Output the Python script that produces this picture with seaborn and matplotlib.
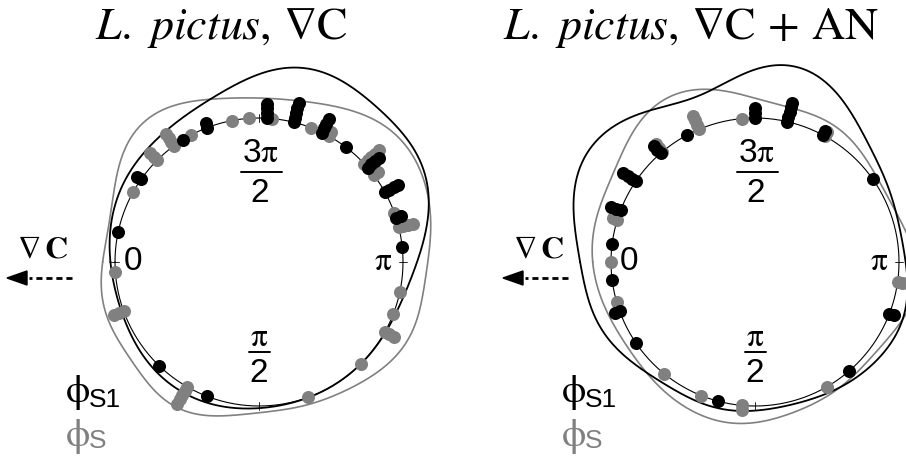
import numpy as np
import matplotlib
matplotlib.use("Agg")
import matplotlib.pyplot as plt
from matplotlib.patches import Polygon
from matplotlib.lines import Line2D
import seaborn as sns

sns.set_theme(style="white")
plt.rcParams["mathtext.fontset"] = "stix"

# Phase angles (degrees, 0 = up-gradient, counterclockwise); repeated values stack outward
grad_phi_s1 = [348, 325, 325, 302, 291, 291,
               267, 267, 267, 267, 256, 256, 256, 256, 256,
               244, 244, 244, 244, 233, 221, 221, 221, 221,
               209, 209, 209, 209, 198, 198, 186, 46, 69]
grad_phi_s = [4, 20, 20, 20, 60, 60, 60, 60, 60, 110, 135,
              151, 151, 151, 159, 168, 194, 194, 194, 194, 200,
              217, 217, 223, 223, 223, 223, 223, 241, 241, 249, 265,
              274, 281, 298, 306, 306, 306, 306, 315, 315, 315, 331]
an_phi_s1 = [353, 7, 20, 20, 34, 75, 131, 159, 159, 215, 242, 242,
             257, 257, 257, 257, 257, 270, 270, 270, 298,
             311, 311, 311, 326, 326, 326, 326, 339, 339, 339]
an_phi_s = [0, 16, 51, 68, 85, 85, 120, 172, 172, 172, 241, 241, 275,
            293, 293, 293, 293, 310, 310, 310, 343, 343]

panel_titles = [r"$\mathit{L.\ pictus},\,\nabla\mathrm{C}$",
                r"$\mathit{L.\ pictus},\,\nabla\mathrm{C}\,+\,\mathrm{AN}$"]
panel_data = [(grad_phi_s1, grad_phi_s), (an_phi_s1, an_phi_s)]

W, H = 906, 457
BASE_PX = 144          # radius of the reference circle in pixels
RMAX = 1.5
STEP = 0.034           # radial spacing of stacked dots
DOT_S = 88
KAPPA = 12.0
AMP = 0.39
GREY = "#808080"

fig = plt.figure(figsize=(W / 100, H / 100), dpi=100)
over = fig.add_axes([0, 0, 1, 1])
over.set_xlim(0, W)
over.set_ylim(H, 0)
over.axis("off")


def stacked(angles_deg):
    th, rr, seen = [], [], {}
    for a in angles_deg:
        k = seen.get(a, 0)
        seen[a] = k + 1
        th.append(np.deg2rad(a))
        rr.append(1.0 + k * STEP)
    return np.array(th), np.array(rr)


def circ_counts(angles_deg, grid):
    # von Mises kernel sum (count-weighted circular density)
    a = np.deg2rad(np.asarray(angles_deg, float))
    return np.exp(KAPPA * (np.cos(grid[:, None] - a[None, :]) - 1.0)).sum(axis=1)


grid = np.linspace(0, 2 * np.pi, 721)
centers = [(259, 262), (755, 262)]
title_left = [95, 503]

for (cx, cy), (s1, s), title, tx in zip(centers, panel_data, panel_titles,
                                        title_left):
    R = BASE_PX * RMAX
    ax = fig.add_axes([(cx - R) / W, (H - cy - R) / H, 2 * R / W, 2 * R / H],
                      projection="polar")
    ax.set_theta_zero_location("W")
    ax.set_theta_direction(1)
    ax.patch.set_visible(False)

    # reference circle and cardinal ticks
    ax.plot(grid, np.ones_like(grid), color="black", lw=0.8)
    for a in [0, np.pi / 2, np.pi, 3 * np.pi / 2]:
        ax.plot([a, a], [0.97, 1.03], color="black", lw=0.6)

    # smoothed circular densities on a shared scale
    d1 = circ_counts(s1, grid)
    d0 = circ_counts(s, grid)
    top = max(d1.max(), d0.max())
    sns.lineplot(x=grid, y=1.0 + AMP * d0 / top, ax=ax, color=GREY,
                 lw=1.2, sort=False, estimator=None)
    sns.lineplot(x=grid, y=1.0 + AMP * d1 / top, ax=ax, color="black",
                 lw=1.3, sort=False, estimator=None)

    # stacked dots
    th, rr = stacked(s)
    sns.scatterplot(x=th, y=rr, ax=ax, color=GREY, s=DOT_S, linewidth=0,
                    legend=False, zorder=3)
    th, rr = stacked(s1)
    sns.scatterplot(x=th, y=rr, ax=ax, color="black", s=DOT_S, linewidth=0,
                    legend=False, zorder=4)

    ax.set_ylim(0, RMAX)
    ax.set_xticks([])
    ax.set_yticks([])
    ax.grid(False)
    ax.set_xlabel("")
    ax.set_ylabel("")
    ax.spines["polar"].set_visible(False)

    # angle labels
    lab = dict(family="Liberation Sans", fontsize=24, color="black",
               ha="center", va="center")
    over.text(cx - 126, cy, "0", **lab)
    over.text(cx + 124, cy, r"$\mathrm{\pi}$", **lab)
    over.text(cx + 1, cy - 109, r"3$\mathrm{\pi}$", **lab)
    over.plot([cx - 18, cx + 23], [cy - 90, cy - 90], color="black", lw=1.4)
    over.text(cx + 1, cy - 69, "2", **lab)
    over.text(cx, cy + 76, r"$\mathrm{\pi}$", **lab)
    over.plot([cx - 10, cx + 11], [cy + 90, cy + 90], color="black", lw=1.4)
    over.text(cx, cy + 111, "2", **lab)

    # gradient direction marker
    gx = cx - 242
    over.text(gx, cy - 13, r"$\nabla\,\mathbf{C}$", fontsize=23,
              ha="left", va="center", color="black")
    over.add_line(Line2D([gx + 55, gx + 12], [cy + 16, cy + 16], color="black",
                         lw=2.0, linestyle=(0, (2.2, 1.4))))
    over.add_patch(Polygon([[gx - 10, cy + 16], [gx + 10, cy + 9],
                            [gx + 10, cy + 23]], closed=True, color="black"))

    # series labels
    lx = cx - 181
    over.text(lx, cy + 140, "\u03d5", family="STIXGeneral", fontsize=28,
              ha="center", va="baseline", color="black")
    over.text(lx + 11, cy + 145, "S1", family="Liberation Sans", fontsize=19,
              ha="left", va="baseline", color="black")
    over.text(lx, cy + 184, "\u03d5", family="STIXGeneral", fontsize=28,
              ha="center", va="baseline", color=GREY)
    over.text(lx + 11, cy + 186, "S", family="Liberation Sans", fontsize=19,
              ha="left", va="baseline", color=GREY)

    # panel title
    over.text(tx, 39, title, fontsize=33, ha="left", va="baseline",
              color="black")

fig.savefig("out.png", dpi=100)
